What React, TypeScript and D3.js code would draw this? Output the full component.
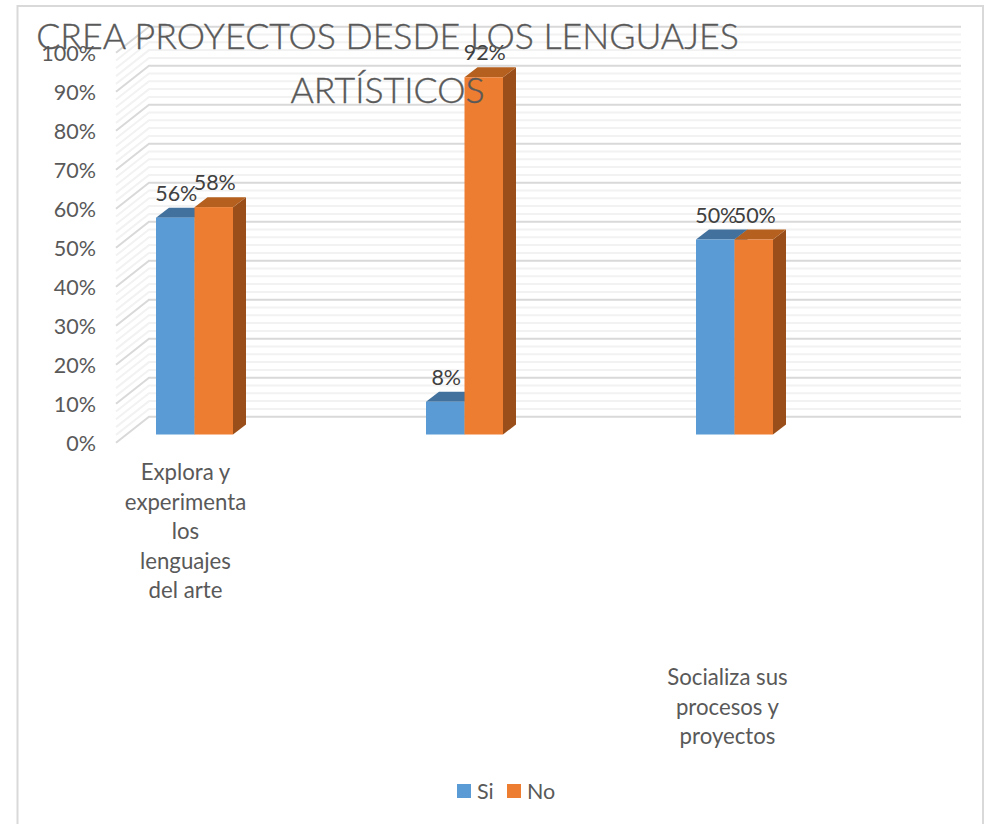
import React from "react";
import * as d3 from "d3";

const titleLines = ["CREA PROYECTOS DESDE LOS LENGUAJES", "ARTÍSTICOS"];
const categories = ["Explora y experimenta los lenguajes del arte", "", "Socializa sus procesos y proyectos"];
const seriesNames = ["Si", "No"];
const siValues = [0.556, 0.084, 0.5];
const noValues = [0.583, 0.916, 0.5];
const categoryLabelLines = [["Explora y", "experimenta", "los", "lenguajes", "del arte"], [], ["Socializa sus", "procesos y", "proyectos"]];
const majorTicks = d3.range(0, 101, 10);
const minorTicks = d3.range(0, 101, 2).filter((d) => d % 10 !== 0);

const fillBlue = "#5b9bd5";
const topBlue = "#41719c";
const fillOrange = "#ed7d31";
const topOrange = "#b5601f";
const sideOrange = "#9a4f1b";
const font = "Lato, Carlito, sans-serif";

export default function App() {
  const y = d3.scaleLinear().domain([0, 1]).range([434.5, 44.5]);
  const x = d3.scaleBand<string>().domain(categories).range([59.5, 869.5]);
  const band = (c: string) => x(c)! + x.bandwidth() / 2;
  const barW = 38.5;
  const dx = 13, dy = 10;
  const wx0 = 116, wx1 = 149, wx2 = 961;
  const wallY = (p: number) => 416.7 - p * 3.9;
  const sideDy = 26;
  const bars = categories.flatMap((c, i) => [
    { v: siValues[i], x0: band(c) - barW, front: fillBlue, top: topBlue, side: topBlue },
    { v: noValues[i], x0: band(c), front: fillOrange, top: topOrange, side: sideOrange },
  ]);
  return (
    <svg width={986} height={824} style={{ position: "absolute", left: 0, top: 0 }}>
      <rect width={986} height={824} fill="#fff" />
      <path d="M17.5 824V6H983V824" fill="none" stroke="#d9d9d9" strokeWidth={2} />
      {minorTicks.map((p) => (
        <path key={p} d={`M${wx0} ${wallY(p) + sideDy}L${wx1} ${wallY(p)}H${wx2}`} fill="none" stroke="#f2f2f2" strokeWidth={2} />
      ))}
      {majorTicks.map((p) => (
        <path key={p} d={`M${wx0} ${wallY(p) + sideDy}L${wx1} ${wallY(p)}H${wx2}`} fill="none" stroke="#d9d9d9" strokeWidth={2} />
      ))}
      {majorTicks.map((p) => (
        <text key={p} x={96} y={wallY(p) + sideDy + 0.3} textAnchor="end" dominantBaseline="central" fontFamily={font} fontSize={21.5} fill="#595959">{p}%</text>
      ))}
      {bars.map((b, i) => {
        const t = y(b.v), l = b.x0, r = l + barW;
        return (
          <g key={i}>
            <path d={`M${r} ${y(0)}L${r + dx} ${y(0) - dy}V${t - dy}L${r} ${t}Z`} fill={b.side} />
            <path d={`M${l} ${t}L${l + dx} ${t - dy}H${r + dx}L${r} ${t}Z`} fill={b.top} />
            <rect x={l} y={t} width={barW} height={y(0) - t} fill={b.front} />
          </g>
        );
      })}
      {categories.flatMap((c, i) => [siValues[i], noValues[i]].map((v, s) => (
        <text key={`${i}-${s}`} x={band(c) - barW / 2 + s * barW + 1} y={y(v) - 25} textAnchor="middle" dominantBaseline="central" fontFamily={font} fontSize={21.5} fill="#404040">{d3.format(".0%")(v)}</text>
      )))}
      {categoryLabelLines.map((lines, i) => lines.map((t, j) => (
        <text key={`${i}-${j}`} x={band(categories[i]) + (i === 0 ? -9 : -7)} y={(i === 0 ? 471.5 : 676.5) + j * 29.5} textAnchor="middle" dominantBaseline="central" fontFamily={font} fontSize={22.2} fill="#595959">{t}</text>
      )))}
      {titleLines.map((t, i) => (
        <text key={t} x={387.5} y={35.5 + i * 54} textAnchor="middle" dominantBaseline="central" fontFamily={font} fontWeight={300} fontSize={35.7} fill="#595959" stroke="#595959" strokeWidth={0.4}>{t}</text>
      ))}
      {seriesNames.map((s, i) => (
        <g key={s}>
          <rect x={457 + i * 50} y={784} width={14} height={14} fill={i === 0 ? fillBlue : fillOrange} />
          <text x={477 + i * 50} y={791} dominantBaseline="central" fontFamily={font} fontSize={21.5} fill="#595959">{s}</text>
        </g>
      ))}
    </svg>
  );
}
